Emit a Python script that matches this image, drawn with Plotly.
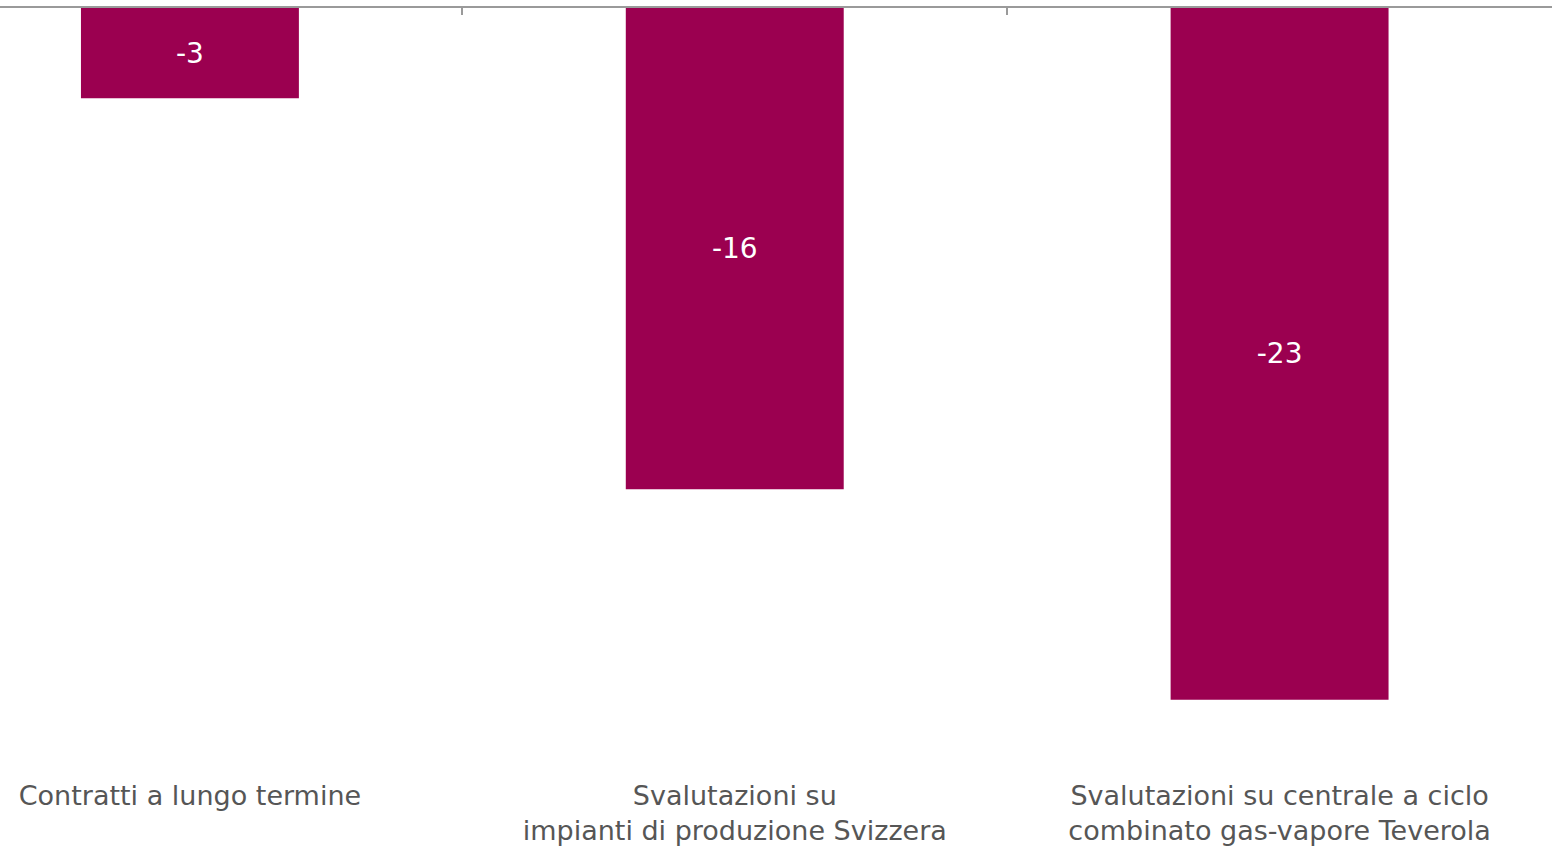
import plotly.graph_objects as go

categories = [
    "Contratti a lungo termine",
    "Svalutazioni su<br>impianti di produzione Svizzera",
    "Svalutazioni su centrale a ciclo<br>combinato gas-vapore Teverola",
]
values = [-3, -16, -23]
value_labels = [str(v) for v in values]

BAR_COLOR = "#9B0050"
AXIS_COLOR = "#9A9A9A"
TEXT_COLOR = "#565656"
FONT = "DejaVu Sans"

fig = go.Figure()
fig.add_trace(go.Bar(
    x=categories, y=values, text=value_labels,
    textposition="inside", insidetextanchor="middle",
    textfont=dict(family=FONT, size=28, color="white"),
    marker=dict(color=BAR_COLOR, line=dict(width=0)),
    width=0.4, hoverinfo="skip", showlegend=False,
))
# invisible copy on the top axis so that the top axis line and boundary ticks are drawn
fig.add_trace(go.Bar(
    x=categories, y=values, xaxis="x2",
    marker=dict(color="rgba(0,0,0,0)", line=dict(width=0)),
    width=0.4, hoverinfo="skip", showlegend=False,
))

xrange = [-0.3486, 2.5]
fig.update_layout(
    width=1558, height=848,
    margin=dict(l=0, r=6, t=8, b=88),
    paper_bgcolor="white", plot_bgcolor="white",
    font=dict(family=FONT, color=TEXT_COLOR),
    xaxis=dict(
        type="category", range=xrange, showline=False, showgrid=False,
        zeroline=False, ticks="", tickfont=dict(family=FONT, size=27, color=TEXT_COLOR),
        ticklabelstandoff=17,
    ),
    xaxis2=dict(
        type="category", range=xrange, overlaying="x", side="top",
        showline=True, linecolor=AXIS_COLOR, linewidth=2,
        ticks="inside", tickson="boundaries", ticklen=7, tickwidth=1.5,
        tickcolor=AXIS_COLOR, showticklabels=False, showgrid=False, zeroline=False,
    ),
    yaxis=dict(range=[-25, 0], visible=False, showgrid=False, zeroline=False),
)

fig.write_html("out.html", config={"displayModeBar": False},
               post_script="document.body.style.margin='0';")
